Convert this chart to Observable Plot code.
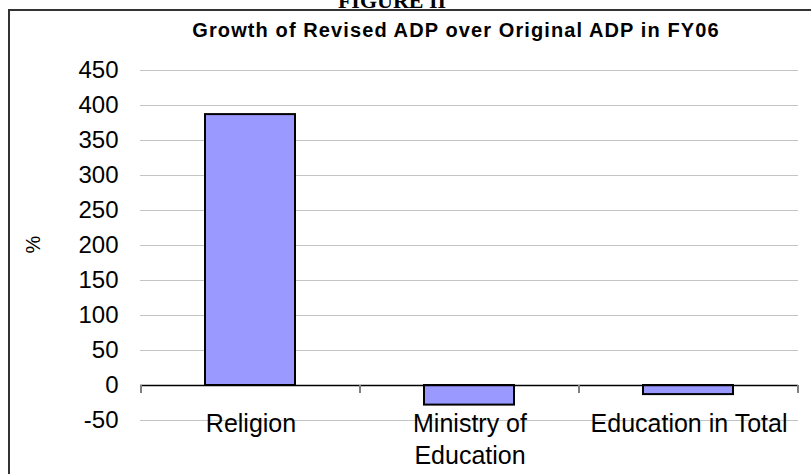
<!DOCTYPE html>
<html>
<head>
<meta charset="utf-8">
<script src="https://cdn.jsdelivr.net/npm/d3@7"></script>
<script src="https://cdn.jsdelivr.net/npm/@observablehq/plot@0.6"></script>
<style>
  html, body { margin: 0; padding: 0; background: #fff; }
  #wrap { position: relative; width: 811px; height: 474px; overflow: hidden; background: #fff; }
  #chart { position: absolute; left: 0; top: 0; }
  .abs { position: absolute; white-space: nowrap; line-height: 1; }
  #fig { left: 392px; top: -10px; transform: translateX(-50%); font-family: "Liberation Serif", "Times New Roman", serif; font-weight: bold; font-size: 22px; color: #000; }
  #title { left: 456px; top: 20px; transform: translateX(-50%); font-family: "Liberation Sans", Arial, sans-serif; font-weight: bold; font-size: 20px; letter-spacing: 1.1px; color: #000; }
  #frame { position: absolute; left: 8px; top: 9px; width: 900px; height: 600px; border-left: 2px solid #333; border-top: 2px solid #333; }
</style>
</head>
<body>
<div id="wrap">
  <div id="chart"></div>
  <div id="frame"></div>
  <div class="abs" id="fig">FIGURE II</div>
  <div class="abs" id="title">Growth of Revised ADP over Original ADP in FY06</div>
</div>
<script>
const categories = ["Religion", "Ministry of Education", "Education in Total"];
const categoryLabels = ["Religion", "Ministry of\nEducation", "Education in Total"];
const values = [387, -28, -13];
const yTicks = [-50, 0, 50, 100, 150, 200, 250, 300, 350, 400, 450];
const yLabel = "%";

const data = categories.map((c, i) => ({cat: c, label: categoryLabels[i], value: values[i]}));

const boundaryTicks = (index, scales) => {
  const x = scales.x, y = scales.y;
  const starts = categories.map(c => x(c));
  const step = starts[1] - starts[0];
  const edges = starts.concat([starts[starts.length - 1] + step]);
  const y0 = y(0);
  const g = d3.create("svg:g");
  g.selectAll("line").data(edges).join("line")
    .attr("x1", d => d).attr("x2", d => d)
    .attr("y1", y0).attr("y2", y0 + 8)
    .attr("stroke", "#808080").attr("stroke-width", 2);
  return g.node();
};

const chart = Plot.plot({
  width: 811,
  height: 474,
  marginTop: 70,
  marginBottom: 54,
  marginLeft: 140,
  marginRight: 13,
  style: {fontFamily: "'Liberation Sans', Arial, sans-serif", fontSize: "24px", color: "#000", background: "transparent"},
  x: {domain: categories, padding: 0, axis: null},
  y: {domain: [-50, 450], ticks: yTicks, tickSize: 0, tickPadding: 22, label: null, tickFormat: d => String(d)},
  marks: [
    Plot.ruleY(yTicks, {stroke: "#c4c4c4", strokeWidth: 1}),
    Plot.barY(data, {x: "cat", y: "value", fill: "#9999ff", stroke: "#000", strokeWidth: 2, insetLeft: 64, insetRight: 65}),
    Plot.ruleY([0], {stroke: "#000", strokeWidth: 1.5}),
    boundaryTicks,
    Plot.text(data, {x: "cat", y: () => 0, text: "label", dy: 23, lineAnchor: "top", lineHeight: 1.3, fontSize: 25, fill: "#000"}),
    Plot.text([yLabel], {text: d => d, frameAnchor: "left", dx: -107, dy: 8, rotate: -90, fontSize: 20, fill: "#000"})
  ]
});
document.getElementById("chart").appendChild(chart);
</script>
</body>
</html>
